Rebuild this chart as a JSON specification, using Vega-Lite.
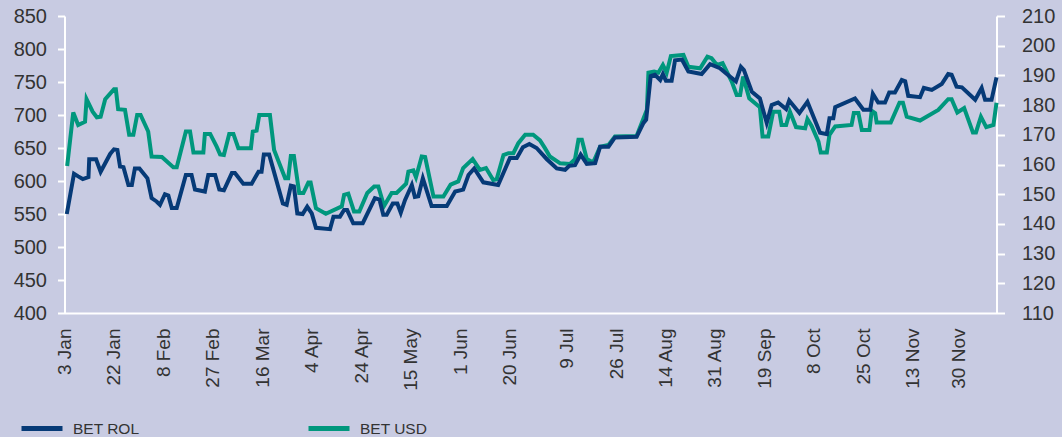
{
  "$schema": "https://vega.github.io/schema/vega-lite/v6.json",
  "width": 932,
  "height": 297,
  "autosize": {"type": "none"},
  "padding": {"left": 64.5, "top": 16, "right": 65.5, "bottom": 124},
  "background": "#c8cbe2",
  "config": {
    "view": {"stroke": null},
    "font": "Liberation Sans",
    "axis": {
      "domainColor": "#ffffff",
      "domainWidth": 2,
      "tickColor": "#ffffff",
      "tickWidth": 2,
      "grid": false,
      "labelColor": "#333333",
      "title": null
    },
    "legend": {
      "orient": "none",
      "legendX": -45.5,
      "legendY": 389.5,
      "direction": "horizontal",
      "symbolType": "stroke",
      "symbolSize": 1681,
      "symbolStrokeWidth": 5,
      "labelFontSize": 15.5,
      "labelColor": "#333333",
      "labelOffset": 8,
      "columnPadding": 158,
      "padding": 0,
      "title": null
    }
  },
  "datasets": {
    "rol": [
      {"t":0.6,"v":550},{"t":2.5,"v":611},{"t":3.6,"v":607},{"t":4.8,"v":603},{"t":6.3,"v":606},{"t":6.5,"v":633},{"t":8.3,"v":633},{"t":9.5,"v":614},{"t":12,"v":641},{"t":13,"v":648},{"t":13.9,"v":647},{"t":14.6,"v":622},{"t":15.5,"v":621},{"t":16.8,"v":594},{"t":17.7,"v":594},{"t":18.5,"v":619},{"t":19.7,"v":619},{"t":21.8,"v":604},{"t":22.9,"v":574},{"t":24.2,"v":569},{"t":25.1,"v":564},{"t":26.4,"v":580},{"t":27.3,"v":578},{"t":28.2,"v":559},{"t":29.5,"v":559},{"t":31.9,"v":609},{"t":33.4,"v":609},{"t":34.3,"v":587},{"t":36.9,"v":584},{"t":37.8,"v":609},{"t":39.6,"v":609},{"t":40.7,"v":587},{"t":41.9,"v":586},{"t":44,"v":612},{"t":44.8,"v":612},{"t":47,"v":596},{"t":49.2,"v":596},{"t":51,"v":614},{"t":51.8,"v":614},{"t":52.4,"v":640},{"t":53.8,"v":640},{"t":57.4,"v":566},{"t":58.4,"v":564},{"t":59.5,"v":593},{"t":60.3,"v":592},{"t":61.2,"v":551},{"t":62.6,"v":550},{"t":63.8,"v":561},{"t":65,"v":551},{"t":66.1,"v":529},{"t":69.8,"v":527},{"t":70.7,"v":546},{"t":72.4,"v":546},{"t":73.5,"v":556},{"t":74.3,"v":556},{"t":75.9,"v":536},{"t":78.4,"v":536},{"t":81.6,"v":574},{"t":82.8,"v":572},{"t":83.8,"v":549},{"t":84.7,"v":549},{"t":86.3,"v":566},{"t":87.5,"v":566},{"t":88.4,"v":552},{"t":89.5,"v":571},{"t":91.3,"v":594},{"t":92.1,"v":576},{"t":93,"v":577},{"t":94.2,"v":604},{"t":96.5,"v":562},{"t":100.5,"v":562},{"t":102.7,"v":584},{"t":104.8,"v":587},{"t":106.2,"v":609},{"t":107.7,"v":619},{"t":110.1,"v":598},{"t":114,"v":594},{"t":117.1,"v":635},{"t":118.9,"v":635},{"t":120.5,"v":651},{"t":122.2,"v":656},{"t":124.1,"v":650},{"t":126.8,"v":633},{"t":129.4,"v":619},{"t":131.6,"v":617},{"t":132.7,"v":623},{"t":134.2,"v":624},{"t":135.7,"v":640},{"t":137.3,"v":626},{"t":139.5,"v":627},{"t":140.8,"v":652},{"t":143,"v":652},{"t":144.7,"v":666},{"t":150.4,"v":667},{"t":152.2,"v":688},{"t":152.9,"v":693},{"t":154.1,"v":759},{"t":155.2,"v":761},{"t":156.6,"v":753},{"t":157.3,"v":762},{"t":158.1,"v":752},{"t":159.6,"v":752},{"t":160.5,"v":783},{"t":162.3,"v":784},{"t":164,"v":766},{"t":167.5,"v":762},{"t":169.7,"v":777},{"t":172.3,"v":771},{"t":174.1,"v":762},{"t":176.5,"v":751},{"t":177.8,"v":773},{"t":178.6,"v":768},{"t":180.7,"v":735},{"t":182.8,"v":725},{"t":184.6,"v":688},{"t":185.9,"v":715},{"t":187.6,"v":719},{"t":189.7,"v":709},{"t":190.5,"v":722},{"t":193.2,"v":703},{"t":195.3,"v":720},{"t":198.6,"v":673},{"t":200.4,"v":671},{"t":201.1,"v":695},{"t":202.1,"v":695},{"t":202.6,"v":712},{"t":207.8,"v":725},{"t":210,"v":708},{"t":211.8,"v":708},{"t":212.5,"v":732},{"t":213.9,"v":719},{"t":215.7,"v":719},{"t":216.8,"v":734},{"t":218.3,"v":734},{"t":220.1,"v":753},{"t":221,"v":751},{"t":221.8,"v":729},{"t":224.9,"v":727},{"t":225.9,"v":741},{"t":228,"v":738},{"t":230.6,"v":747},{"t":232.3,"v":762},{"t":233.2,"v":761},{"t":234.5,"v":743},{"t":235.9,"v":742},{"t":239.4,"v":723},{"t":241.1,"v":741},{"t":242,"v":723},{"t":243.7,"v":723},{"t":245,"v":757}
    ],
    "usd": [
      {"t":0.7,"v":159.5},{"t":2.3,"v":177.5},{"t":3.6,"v":173.3},{"t":5.4,"v":174.4},{"t":5.8,"v":182},{"t":7.4,"v":177.8},{"t":8.5,"v":175.9},{"t":9.5,"v":176.1},{"t":10.7,"v":182},{"t":13,"v":185.3},{"t":13.5,"v":185.3},{"t":14.1,"v":178.6},{"t":15.9,"v":178.4},{"t":17,"v":170},{"t":18.1,"v":170},{"t":19.1,"v":176.7},{"t":20,"v":176.7},{"t":22,"v":171.1},{"t":22.9,"v":162.7},{"t":25.6,"v":162.5},{"t":28.6,"v":159.1},{"t":29.5,"v":159.1},{"t":31.9,"v":171.1},{"t":33,"v":171.1},{"t":33.9,"v":164},{"t":36.5,"v":164},{"t":36.9,"v":170.3},{"t":38.3,"v":170.3},{"t":40,"v":166},{"t":40.9,"v":163.4},{"t":41.9,"v":163.2},{"t":43.3,"v":170.3},{"t":44.4,"v":170.3},{"t":45.7,"v":165.5},{"t":49,"v":165.5},{"t":49.5,"v":171.1},{"t":50.5,"v":171.4},{"t":51.2,"v":176.7},{"t":54,"v":176.7},{"t":55.1,"v":164.9},{"t":58,"v":155.4},{"t":58.8,"v":155.4},{"t":59.5,"v":162.9},{"t":60.3,"v":162.9},{"t":61.7,"v":150.4},{"t":62.8,"v":150.4},{"t":64.1,"v":153.9},{"t":64.7,"v":153.9},{"t":66.1,"v":145.3},{"t":68.7,"v":143.4},{"t":72.9,"v":145.9},{"t":73.5,"v":149.8},{"t":74.6,"v":150.2},{"t":76.1,"v":144.2},{"t":77.5,"v":144.2},{"t":79.6,"v":150.4},{"t":81.4,"v":152.6},{"t":82.5,"v":152.6},{"t":84,"v":146},{"t":86,"v":150.4},{"t":87.3,"v":150.4},{"t":89.8,"v":153.5},{"t":90.4,"v":157.6},{"t":91.7,"v":158},{"t":92.4,"v":155.7},{"t":93.9,"v":162.7},{"t":94.8,"v":162.5},{"t":97,"v":149.2},{"t":99.6,"v":149.2},{"t":101.5,"v":153.2},{"t":103.5,"v":154.3},{"t":104.8,"v":158.8},{"t":107.3,"v":161.8},{"t":109.2,"v":158.2},{"t":110.8,"v":158.8},{"t":112.7,"v":154.8},{"t":113.6,"v":155},{"t":115.4,"v":163.2},{"t":116.7,"v":163.8},{"t":118,"v":163.8},{"t":119.3,"v":167.2},{"t":121.1,"v":170},{"t":123.2,"v":170},{"t":125,"v":168.1},{"t":126.3,"v":165.5},{"t":127.6,"v":162.7},{"t":130.3,"v":160.4},{"t":132.9,"v":160.2},{"t":134.2,"v":161.8},{"t":135.1,"v":168.3},{"t":136,"v":168.3},{"t":137.3,"v":161.8},{"t":139,"v":160.7},{"t":140.8,"v":166},{"t":143,"v":166.6},{"t":144.7,"v":169.4},{"t":150.4,"v":169.6},{"t":153.1,"v":178.4},{"t":153.5,"v":190.9},{"t":155,"v":191.3},{"t":156.1,"v":190.9},{"t":157.3,"v":193.5},{"t":158.3,"v":190.9},{"t":159.4,"v":196.5},{"t":162.7,"v":196.9},{"t":164,"v":192.9},{"t":167.1,"v":192.4},{"t":169,"v":196.3},{"t":170.1,"v":195.8},{"t":171.5,"v":193.5},{"t":173,"v":194.1},{"t":175.4,"v":187.9},{"t":176.7,"v":183.4},{"t":177.6,"v":183.4},{"t":178.4,"v":189.6},{"t":180,"v":182.3},{"t":182.8,"v":179.3},{"t":183.5,"v":169.4},{"t":185,"v":169.4},{"t":186.3,"v":177.8},{"t":187.9,"v":177.8},{"t":188.5,"v":173.3},{"t":189.7,"v":173.3},{"t":190.7,"v":177.8},{"t":192.3,"v":172.6},{"t":194.7,"v":172.2},{"t":195.3,"v":175.3},{"t":196.4,"v":173},{"t":198.2,"v":167.7},{"t":198.8,"v":164},{"t":200.4,"v":164},{"t":201.1,"v":170},{"t":202.6,"v":172.8},{"t":206.9,"v":173.3},{"t":207.5,"v":177.3},{"t":208.7,"v":177.3},{"t":209.6,"v":171.6},{"t":211.6,"v":171.6},{"t":212.2,"v":178.1},{"t":213.1,"v":177.3},{"t":213.5,"v":174.1},{"t":217.2,"v":174.1},{"t":219.5,"v":180.8},{"t":220.4,"v":180.8},{"t":221.4,"v":176.1},{"t":224.9,"v":174.8},{"t":229.7,"v":178.4},{"t":232.3,"v":182},{"t":233.2,"v":182},{"t":234.7,"v":177.5},{"t":236.5,"v":179},{"t":238.8,"v":170.8},{"t":239.6,"v":170.8},{"t":240.9,"v":176.1},{"t":242.3,"v":172.6},{"t":244.2,"v":173.3},{"t":245,"v":180.8}
    ]
  },
  "encoding": {
    "x": {
      "field": "t",
      "type": "quantitative",
      "scale": {"domain": [0, 245], "nice": false, "zero": false},
      "axis": {
        "values": [0,13,26,39,52,65,78,91,104,117,132,145,158,171,184,197,210,223,235],
        "labelExpr": "['3 Jan','22 Jan','8 Feb','27 Feb','16 Mar','4 Apr','24 Apr','15 May','1 Jun','20 Jun','9 Jul','26 Jul','14 Aug','31 Aug','19 Sep','8 Oct','25 Oct','13 Nov','30 Nov'][indexof([0,13,26,39,52,65,78,91,104,117,132,145,158,171,184,197,210,223,235], datum.value)]",
        "ticks": false,
        "labelAngle": -90,
        "labelAlign": "right",
        "labelBaseline": "middle",
        "labelPadding": 15,
        "labelFontSize": 19,
        "labelOverlap": false,
        "labelFlush": false,
        "labelBound": false
      }
    }
  },
  "layer": [
    {
      "data": {"name": "usd"},
      "mark": {"type": "line", "strokeWidth": 4, "strokeJoin": "miter"},
      "encoding": {
        "y": {
          "field": "v",
          "type": "quantitative",
          "scale": {"domain": [110, 210], "nice": false, "zero": false},
          "axis": {
            "orient": "right",
            "values": [110,120,130,140,150,160,170,180,190,200,210],
            "tickSize": 8,
            "labelPadding": 17,
            "labelFontSize": 20
          }
        },
        "color": {
          "datum": "BET USD",
          "type": "nominal",
          "scale": {"domain": ["BET ROL", "BET USD"], "range": ["#063a77", "#00977d"]},
          "legend": {
            "encode": {"symbols": {"update": {"stroke": [{"test": "datum.value === 'BET USD'", "value": "#58b8a6"}, {"value": "#063a77"}]}}}
          }
        }
      }
    },
    {
      "data": {"name": "rol"},
      "mark": {"type": "line", "strokeWidth": 4, "strokeJoin": "miter"},
      "encoding": {
        "y": {
          "field": "v",
          "type": "quantitative",
          "scale": {"domain": [400, 850], "nice": false, "zero": false},
          "axis": {
            "orient": "left",
            "values": [400,450,500,550,600,650,700,750,800,850],
            "tickSize": 7,
            "labelPadding": 11,
            "labelFontSize": 20
          }
        },
        "color": {
          "datum": "BET ROL",
          "type": "nominal",
          "scale": {"domain": ["BET ROL", "BET USD"], "range": ["#063a77", "#00977d"]},
          "legend": {
            "encode": {"symbols": {"update": {"stroke": [{"test": "datum.value === 'BET USD'", "value": "#58b8a6"}, {"value": "#063a77"}]}}}
          }
        }
      }
    }
  ],
  "resolve": {"scale": {"y": "independent"}}
}
